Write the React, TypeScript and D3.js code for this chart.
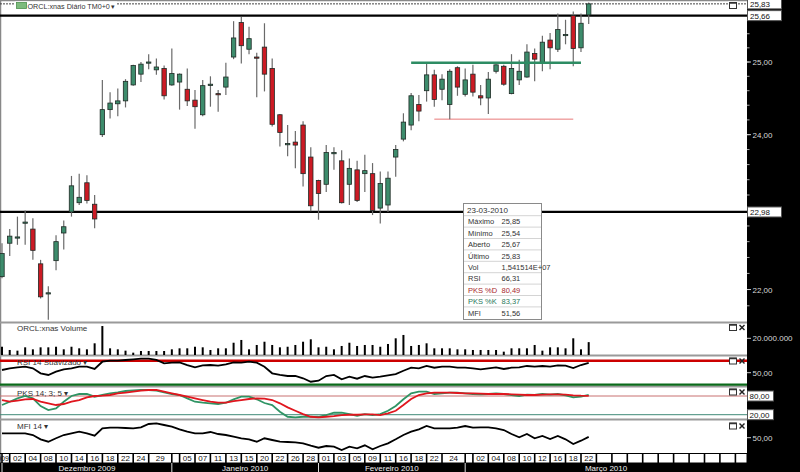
import React from 'react';
import * as d3 from 'd3';

// trading days shown on the axis (one per candle)
const tradingDays = [
  '30-11-2009', '01-12-2009', '02-12-2009', '03-12-2009', '04-12-2009', '07-12-2009', '08-12-2009', '09-12-2009', '10-12-2009', '11-12-2009',
  '14-12-2009', '15-12-2009', '16-12-2009', '17-12-2009', '18-12-2009', '21-12-2009', '22-12-2009', '23-12-2009', '24-12-2009', '28-12-2009',
  '29-12-2009', '30-12-2009', '31-12-2009', '04-01-2010', '05-01-2010', '06-01-2010', '07-01-2010', '08-01-2010', '11-01-2010', '12-01-2010',
  '13-01-2010', '14-01-2010', '15-01-2010', '19-01-2010', '20-01-2010', '21-01-2010', '22-01-2010', '25-01-2010', '26-01-2010', '27-01-2010',
  '28-01-2010', '29-01-2010', '01-02-2010', '02-02-2010', '03-02-2010', '04-02-2010', '05-02-2010', '08-02-2010', '09-02-2010', '10-02-2010',
  '11-02-2010', '12-02-2010', '16-02-2010', '17-02-2010', '18-02-2010', '19-02-2010', '22-02-2010', '23-02-2010', '24-02-2010', '25-02-2010',
  '26-02-2010', '01-03-2010', '02-03-2010', '03-03-2010', '04-03-2010', '05-03-2010', '08-03-2010', '09-03-2010', '10-03-2010', '11-03-2010',
  '12-03-2010', '15-03-2010', '16-03-2010', '17-03-2010', '18-03-2010', '19-03-2010', '22-03-2010',
];

const open = [
  22.16, 22.58, 22.65, 22.84, 22.76, 22.32, 21.95, 22.36, 22.71, 22.98,
  23.10, 23.36, 23.08, 24.00, 24.34, 24.42, 24.46, 24.68, 24.83, 24.99,
  24.89, 24.91, 24.68, 24.72, 24.62, 24.47, 24.27, 24.68, 24.56, 24.65,
  25.07, 25.56, 25.18, 25.07, 25.21, 24.91, 24.27, 23.87, 23.90, 24.13,
  23.70, 23.39, 23.34, 23.75, 23.65, 23.34, 23.53, 23.48, 23.48, 23.03,
  23.07, 23.70, 23.94, 24.13, 24.41, 24.60, 24.82, 24.62, 24.41, 24.92,
  24.55, 24.83, 24.53, 24.50, 24.87, 24.94, 24.56, 24.75, 24.79, 25.12,
  24.99, 25.31, 25.18, 25.38, 25.66, 25.20, 25.67,
];
const high = [
  22.58, 22.76, 22.92, 23.00, 22.90, 22.37, 22.04, 22.68, 22.87, 23.45,
  23.48, 23.46, 23.20, 24.75, 24.58, 24.63, 24.76, 24.96, 25.00, 25.11,
  25.05, 24.95, 25.19, 24.84, 24.91, 24.61, 24.75, 24.80, 24.61, 24.99,
  25.58, 25.64, 25.50, 25.13, 25.55, 25.05, 24.28, 24.13, 24.05, 24.18,
  23.83, 23.40, 23.86, 23.83, 23.79, 23.68, 23.65, 23.73, 23.62, 23.51,
  23.51, 23.86, 24.29, 24.57, 24.54, 24.98, 24.89, 24.83, 24.90, 24.94,
  24.91, 24.96, 24.68, 24.86, 24.97, 24.96, 25.11, 25.03, 25.25, 25.19,
  25.37, 25.41, 25.69, 25.60, 25.72, 25.69, 25.85,
];
const low = [
  22.14, 22.42, 22.56, 22.56, 22.37, 21.89, 21.63, 22.24, 22.50, 22.92,
  23.07, 23.09, 22.77, 23.97, 24.22, 24.25, 24.37, 24.67, 24.72, 24.90,
  24.82, 24.48, 24.67, 24.34, 24.39, 24.08, 24.25, 24.38, 24.31, 24.54,
  25.04, 24.98, 25.11, 24.51, 24.59, 24.11, 23.84, 23.71, 23.55, 23.31,
  22.99, 22.88, 23.24, 23.53, 23.09, 23.07, 23.11, 23.24, 22.94, 22.83,
  22.98, 23.44, 23.91, 24.06, 24.18, 24.45, 24.38, 24.47, 24.21, 24.53,
  24.52, 24.52, 24.40, 24.28, 24.84, 24.67, 24.55, 24.68, 24.78, 24.73,
  24.87, 24.90, 25.14, 25.25, 24.94, 25.14, 25.54,
];
const close = [
  22.45, 22.67, 22.66, 22.85, 22.49, 21.91, 21.96, 22.60, 22.79, 23.32,
  23.17, 23.13, 22.89, 24.34, 24.43, 24.46, 24.73, 24.95, 24.97, 25.00,
  24.93, 24.53, 24.84, 24.83, 24.46, 24.38, 24.67, 24.69, 24.55, 24.79,
  25.34, 25.23, 25.33, 25.06, 24.83, 24.14, 24.03, 23.88, 23.86, 23.48,
  23.06, 23.22, 23.76, 23.76, 23.10, 23.55, 23.13, 23.52, 23.00, 23.35,
  23.42, 23.80, 24.17, 24.53, 24.32, 24.82, 24.48, 24.76, 24.87, 24.65,
  24.75, 24.58, 24.50, 24.76, 24.96, 24.69, 24.91, 24.87, 25.14, 25.04,
  25.28, 25.20, 25.46, 25.39, 25.19, 25.55, 25.83,
];
const volume = [
  9.9e6, 6.0e6, 5.2e6, 9.2e6, 6.8e6, 9.2e6, 9.2e6, 9.9e6, 6.8e6, 9.9e6,
  8.0e6, 6.8e6, 14.0e6, 34.7e6, 8.0e6, 6.8e6, 5.2e6, 2.8e6, 4.8e6, 4.8e6,
  4.8e6, 4.8e6, 6.8e6, 8.0e6, 8.0e6, 9.9e6, 9.2e6, 6.0e6, 8.0e6, 8.0e6,
  14.7e6, 18.0e6, 6.8e6, 12.0e6, 15.9e6, 12.0e6, 9.2e6, 9.9e6, 12.0e6, 15.9e6,
  18.8e6, 9.2e6, 9.9e6, 6.8e6, 10.8e6, 14.7e6, 10.8e6, 12.0e6, 12.0e6, 9.9e6,
  13.2e6, 20.0e6, 24.0e6, 10.8e6, 12.0e6, 14.0e6, 8.0e6, 8.0e6, 8.0e6, 6.8e6,
  6.8e6, 6.0e6, 6.0e6, 6.0e6, 6.0e6, 4.0e6, 8.0e6, 8.0e6, 8.0e6, 12.0e6,
  5.2e6, 9.2e6, 9.2e6, 8.0e6, 20.0e6, 6.8e6, 15415140,
];
const rsi = [
  54.5, 57.3, 59.0, 60.0, 57.3, 49.0, 46.2, 51.7, 55.7, 57.3,
  60.0, 60.0, 56.2, 68.3, 70.0, 70.0, 71.2, 72.3, 73.3, 73.3,
  71.2, 65.7, 66.7, 67.3, 62.8, 59.0, 62.3, 62.8, 61.7, 64.0,
  67.3, 66.7, 68.3, 66.7, 60.0, 49.0, 46.2, 44.5, 44.5, 40.7,
  35.0, 36.7, 44.5, 46.2, 39.0, 43.3, 40.0, 44.5, 41.7, 43.3,
  45.7, 47.8, 53.3, 58.3, 57.3, 61.2, 58.3, 60.0, 60.0, 58.3,
  58.3, 57.3, 55.7, 57.3, 59.0, 56.2, 58.3, 59.0, 61.2, 60.0,
  61.2, 60.0, 62.3, 61.7, 57.8, 62.8, 66.31,
];
const pksK = [
  51.1, 61.7, 72.6, 80.0, 72.6, 47.8, 35.0, 40.5, 61.7, 80.0,
  86.4, 86.4, 77.7, 83.2, 88.7, 91.9, 96.1, 98.3, 99.3, 99.3,
  97.0, 91.9, 86.4, 83.2, 72.6, 61.7, 58.5, 56.5, 54.3, 58.5,
  69.4, 77.7, 77.7, 69.4, 57.5, 51.1, 29.5, 13.4, 11.5, 13.4,
  13.4, 13.4, 18.9, 26.3, 26.3, 22.1, 16.7, 22.1, 18.9, 22.1,
  32.7, 47.8, 69.4, 88.7, 93.8, 93.8, 86.4, 88.7, 90.6, 90.6,
  88.7, 86.4, 85.5, 86.4, 88.7, 86.4, 83.2, 80.0, 84.2, 83.2,
  86.4, 84.2, 86.4, 82.3, 75.8, 77.7, 83.37,
];
const pksD = [
  67.1, 61.7, 64.9, 69.4, 70.4, 61.7, 56.5, 51.1, 54.3, 61.7,
  67.1, 75.8, 80.0, 81.0, 83.2, 88.7, 90.6, 93.8, 97.0, 99.3,
  99.3, 93.8, 88.7, 83.2, 77.7, 72.6, 67.1, 61.7, 58.5, 58.5,
  63.9, 67.1, 70.4, 72.6, 71.3, 67.1, 56.5, 43.7, 32.7, 22.1,
  13.4, 11.5, 13.4, 15.7, 18.9, 19.9, 19.9, 21.2, 21.2, 18.9,
  24.4, 32.7, 51.1, 70.4, 83.2, 88.7, 90.6, 90.6, 90.6, 89.6,
  88.7, 88.7, 87.4, 86.4, 86.4, 86.4, 85.5, 84.2, 83.2, 83.2,
  84.2, 85.5, 85.5, 84.2, 82.3, 81.0, 80.49,
];
const mfi = [
  58.8, 58.8, 58.8, 58.8, 55.4, 46.8, 42.0, 48.8, 55.4, 58.8,
  62.0, 58.8, 54.0, 68.8, 70.0, 70.0, 69.4, 68.8, 70.8, 77.4,
  78.8, 75.4, 72.0, 66.8, 62.0, 58.8, 58.8, 61.4, 57.4, 55.4,
  52.0, 48.8, 46.8, 42.0, 48.8, 45.4, 42.0, 41.4, 40.8, 38.8,
  34.0, 30.0, 33.4, 32.0, 25.4, 32.0, 28.8, 34.8, 26.8, 33.4,
  38.8, 46.8, 55.4, 62.0, 66.8, 73.4, 68.8, 68.8, 68.8, 70.0,
  73.4, 70.0, 70.8, 70.8, 68.8, 65.4, 57.4, 50.8, 57.4, 48.8,
  53.4, 47.4, 53.4, 46.8, 37.4, 44.0, 51.56,
];

// drawn levels on the price panel
const blackLevels = [25.66, 22.98];
const lastPrice = 25.83;
const resistance = { value: 24.99, from: '17-02-2010', to: '19-03-2010' };
const support = { value: 24.21, from: '22-02-2010', to: '18-03-2010' };

const priceLabels = [25, 24, 22];
const dayTicks = [
  '30-11-2009', '02-12-2009', '04-12-2009', '08-12-2009', '10-12-2009', '14-12-2009', '16-12-2009', '18-12-2009', '22-12-2009', '24-12-2009',
  '29-12-2009', '05-01-2010', '07-01-2010', '11-01-2010', '13-01-2010', '15-01-2010', '20-01-2010', '22-01-2010', '26-01-2010', '28-01-2010',
  '01-02-2010', '03-02-2010', '05-02-2010', '09-02-2010', '11-02-2010', '16-02-2010', '18-02-2010', '22-02-2010', '24-02-2010',
  '02-03-2010', '04-03-2010', '08-03-2010', '10-03-2010', '12-03-2010', '16-03-2010', '18-03-2010', '22-03-2010',
];
const monthNames = ['Dezembro 2009', 'Janeiro 2010', 'Fevereiro 2010', 'Março 2010'];
const monthStarts = ['01-12-2009', '04-01-2010', '01-02-2010', '01-03-2010'];
const hoverDate = '23-03-2010';

const W = 800;
const H = 472;
const RIGHT = 747;
const FONT = '"Liberation Sans", Arial, sans-serif';

const fmt = (v: number) => v.toFixed(2).replace('.', ',');
const fmtSci = (v: number) => {
  const e = Math.floor(Math.log10(v));
  return (v / 10 ** e).toFixed(6).replace('.', ',') + 'E+' + String(e).padStart(2, '0');
};

const WinIcons = ({ y, close: withX = true }: { y: number; close?: boolean }) => (
  <g>
    <rect x={729.5} y={y - 3} width={7} height={6} fill="white" stroke="#333" strokeWidth={1} />
    <line x1={729.5} x2={736.5} y1={y - 2.5} y2={y - 2.5} stroke="#333" strokeWidth={1.5} />
    {withX && (
      <g stroke="#222" strokeWidth={1.4}>
        <line x1={739.5} x2={744.5} y1={y - 2.5} y2={y + 2.5} />
        <line x1={739.5} x2={744.5} y1={y + 2.5} y2={y - 2.5} />
      </g>
    )}
  </g>
);

export default function App() {
  const x = d3.scalePoint<string>().domain(tradingDays).range([2, 588.7]);
  const step = x.step();
  const xi = (i: number) => 2 + i * step;
  const idx = (d: string) => tradingDays.indexOf(d);

  // price axis is logarithmic
  const yP = d3.scaleLog()
    .domain([21.6, 25.9])
    .range([62 + 1780 * Math.log(25 / 21.6), 62 - 1780 * Math.log(25.9 / 25)]);
  const yVol = d3.scaleLinear().domain([0, 20e6]).range([355, 338.3]);
  const yRsi = d3.scaleLinear().domain([30, 70]).range([384.7, 360.7]);
  const yPks = d3.scaleLinear().domain([20, 80]).range([414.7, 396]);
  const yMfi = d3.scaleLinear().domain([20, 80]).range([452.7, 422.7]);

  const lineOf = (sc: d3.ScaleLinear<number, number>) =>
    d3.line<number>().x((_, i) => x(tradingDays[i]) as number).y(v => sc(v));

  const minorTicks = d3.range(21.8, 25.85, 0.2);

  // date-row separators
  const seps: number[] = [];
  dayTicks.slice(1).forEach(d => seps.push(xi(idx(d) - 1)));
  monthStarts.forEach(d => seps.push(xi(idx(d) - 1)));
  for (let i = tradingDays.length; xi(i) < RIGHT; i += 2) seps.push(xi(i));
  const sortedSeps = Array.from(new Set(seps.map(s => Math.round(s * 10) / 10))).sort((a, b) => a - b);
  const dividers = monthStarts.map(d => xi(idx(d) - 1));

  const last = tradingDays.length - 1;
  const tipRows: [string, string, string][] = [
    ['Máximo', fmt(high[last]), '#333'],
    ['Mínimo', fmt(low[last]), '#333'],
    ['Aberto', fmt(open[last]), '#333'],
    ['Último', fmt(close[last]), '#333'],
    ['Vol', fmtSci(volume[last]), '#333'],
    ['RSI', fmt(rsi[last]), '#333'],
    ['PKS %D', fmt(pksD[last]), '#a8282c'],
    ['PKS %K', fmt(pksK[last]), '#2b7a5c'],
    ['MFI', fmt(mfi[last]), '#333'],
  ];

  const panelLines = [322.5, 355.5, 386.5, 419.5];

  return (
    <div style={{ position: 'fixed', left: 0, top: 0 }}>
      <svg width={W} height={H} style={{ display: 'block', fontFamily: FONT }}>
        <rect x={0} y={0} width={W} height={H} fill="white" />

        {/* panel frames */}
        <line x1={0} x2={RIGHT} y1={0.5} y2={0.5} stroke="#888" strokeWidth={1.5} />
        <line x1={0.5} x2={0.5} y1={0} y2={454} stroke="#888" strokeWidth={1.5} />
        {panelLines.map(y => (
          <line key={y} x1={0} x2={RIGHT} y1={y} y2={y} stroke="#9a9a9a" strokeWidth={2} />
        ))}

        {/* price levels */}
        <line x1={0} x2={RIGHT} y1={yP(lastPrice)} y2={yP(lastPrice)} stroke="#444" strokeWidth={1} strokeDasharray="2,1" />
        {blackLevels.map(v => (
          <line key={v} x1={0} x2={RIGHT} y1={yP(v)} y2={yP(v)} stroke="#000" strokeWidth={2.2} />
        ))}
        <line x1={x(support.from)} x2={x(support.to)} y1={yP(support.value)} y2={yP(support.value)} stroke="#e87878" strokeWidth={1} />

        {/* candles */}
        {tradingDays.map((d, i) => {
          const cx = x(d) as number;
          const up = close[i] >= open[i];
          const top = yP(Math.max(open[i], close[i]));
          const bot = yP(Math.min(open[i], close[i]));
          return (
            <g key={d}>
              <line x1={cx} x2={cx} y1={yP(high[i])} y2={yP(low[i])} stroke="#6a6a6a" strokeWidth={1.2} />
              <rect x={cx - 2.2} y={top} width={4.4} height={Math.max(bot - top, 1.2)}
                fill={up ? '#3d8c6c' : '#cc1a24'} stroke="#1f2a25" strokeWidth={0.8} />
            </g>
          );
        })}
        <line x1={x(resistance.from)} x2={x(resistance.to)} y1={yP(resistance.value)} y2={yP(resistance.value)} stroke="#2d8c63" strokeWidth={2.4} />

        {/* title */}
        <rect x={15} y={1.5} width={102} height={8} fill="white" />
        <rect x={16.5} y={2.5} width={10} height={6} fill="#7dbb7d" stroke="#4e8f4e" strokeWidth={0.8} />
        <text x={27.5} y={8.6} fontSize={7.2} fill="#333">ORCL:xnas Diário TM0+0</text>
        <text x={111} y={8.6} fontSize={6.5} fill="#333">▾</text>
        <rect x={728} y={1.5} width={10} height={8} fill="white" />
        <WinIcons y={5.5} close={false} />

        {/* tooltip */}
        <g>
          <rect x={463.5} y={203.5} width={78} height={116} fill="white" stroke="#8a8a8a" strokeWidth={1} />
          <text x={467} y={213} fontSize={8} fill="#333">{hoverDate}</text>
          {tipRows.map(([label, value, color], r) => {
            const cy = 221.4 + r * 11.4;
            return (
              <g key={label}>
                <line x1={464} x2={541} y1={cy - 5.7} y2={cy - 5.7} stroke="#d4d4d4" strokeWidth={1} />
                <text x={468} y={cy + 3} fontSize={7.5} fill={color}>{label}</text>
                <text x={501.5} y={cy + 3} fontSize={7.5} fill={color}>{value}</text>
              </g>
            );
          })}
        </g>

        {/* volume */}
        <text x={17} y={331} fontSize={8} fill="#333">ORCL:xnas Volume</text>
        {tradingDays.map((d, i) => (
          <rect key={d} x={(x(d) as number) - 1} y={yVol(volume[i])} width={2} height={yVol(0) - yVol(volume[i])} fill="#000" />
        ))}
        <WinIcons y={327.5} />

        {/* RSI */}
        <line x1={0} x2={RIGHT} y1={yRsi(70)} y2={yRsi(70)} stroke="#cc0000" strokeWidth={2.6} />
        <line x1={0} x2={RIGHT} y1={yRsi(30)} y2={yRsi(30)} stroke="#0b6a1a" strokeWidth={2.2} />
        <text x={17} y={364.5} fontSize={8} fill="#333">RSI 14 Suavizado ▾</text>
        <path d={lineOf(yRsi)(rsi) || ''} fill="none" stroke="#000" strokeWidth={1.8} />
        <WinIcons y={361} />

        {/* PKS */}
        <line x1={0} x2={RIGHT} y1={yPks(80)} y2={yPks(80)} stroke="#c87070" strokeWidth={1} />
        <line x1={0} x2={RIGHT} y1={yPks(20)} y2={yPks(20)} stroke="#3f8a78" strokeWidth={1} />
        <text x={17} y={395.5} fontSize={8} fill="#333">PKS 14; 3; 5 ▾</text>
        <path d={lineOf(yPks)(pksK) || ''} fill="none" stroke="#2f9464" strokeWidth={1.8} />
        <path d={lineOf(yPks)(pksD) || ''} fill="none" stroke="#e0161e" strokeWidth={1.8} />
        <WinIcons y={392} />

        {/* MFI */}
        <text x={17} y={429} fontSize={8} fill="#333">MFI 14 ▾</text>
        <path d={lineOf(yMfi)(mfi) || ''} fill="none" stroke="#000" strokeWidth={1.8} />
        <WinIcons y={426} />

        {/* date axis */}
        <rect x={0} y={453.5} width={RIGHT} height={9.5} fill="white" stroke="#000" strokeWidth={1} />
        {sortedSeps.map(s => (
          <line key={s} x1={s} x2={s} y1={453.5} y2={463} stroke="#000" strokeWidth={1.6} />
        ))}
        {dayTicks.map((d, k) => {
          const left = xi(idx(d) - 1);
          const right = sortedSeps.find(s => s > left + 1) ?? left + 2 * step;
          if (k === 0) {
            // first label is partly hidden behind the left edge
            return (
              <text key={d} x={8.8} y={461.3} fontSize={7} textAnchor="end" fill="#111">{d.slice(6)}</text>
            );
          }
          return (
            <text key={d} x={(left + right) / 2} y={461.3} fontSize={8} textAnchor="middle" fill="#111">{d.slice(0, 2)}</text>
          );
        })}
        <rect x={0} y={463} width={RIGHT} height={9} fill="#000" />
        {dividers.map(s => (
          <line key={s} x1={s} x2={s} y1={463} y2={472} stroke="#ddd" strokeWidth={1} />
        ))}
        {monthNames.map((m, k) => {
          const a = dividers[k];
          const b = k + 1 < dividers.length ? dividers[k + 1] : RIGHT;
          return (
            <text key={m} x={(a + b) / 2} y={470.5} fontSize={8} textAnchor="middle" fill="#eee">{m}</text>
          );
        })}

        {/* right axis */}
        <rect x={RIGHT} y={0} width={W - RIGHT} height={H} fill="#000" />
        {minorTicks.map(v => (
          <line key={v} x1={RIGHT} x2={RIGHT + 2.5} y1={yP(v)} y2={yP(v)} stroke="#aaa" strokeWidth={1} />
        ))}
        {priceLabels.map(v => (
          <g key={v}>
            <line x1={RIGHT} x2={RIGHT + 4} y1={yP(v)} y2={yP(v)} stroke="#ccc" strokeWidth={1} />
            <text x={RIGHT + 5.5} y={yP(v) + 3} fontSize={8} fill="#d8d8d8">{fmt(v)}</text>
          </g>
        ))}
        {[lastPrice, ...blackLevels].map(v => (
          <g key={v}>
            <rect x={RIGHT + 0.5} y={yP(v) - 5} width={34} height={10} fill="white" stroke="#555" strokeWidth={1} />
            <text x={RIGHT + 3} y={yP(v) + 3} fontSize={8} fill="#111">{fmt(v)}</text>
          </g>
        ))}
        <line x1={RIGHT} x2={RIGHT + 4} y1={yVol(20e6)} y2={yVol(20e6)} stroke="#ccc" />
        <text x={RIGHT + 5.5} y={yVol(20e6) + 3} fontSize={8} fill="#d8d8d8">{d3.format(',')(20e6).replace(/,/g, '.')}</text>
        <line x1={RIGHT} x2={RIGHT + 4} y1={yRsi(50)} y2={yRsi(50)} stroke="#ccc" />
        <text x={RIGHT + 5.5} y={yRsi(50) + 3} fontSize={8} fill="#d8d8d8">{fmt(50)}</text>
        {[80, 20].map(v => (
          <g key={v}>
            <rect x={RIGHT + 0.5} y={yPks(v) - 5} width={26} height={10} fill="white" stroke="#555" strokeWidth={1} />
            <text x={RIGHT + 2.5} y={yPks(v) + 3} fontSize={8} fill="#111">{fmt(v)}</text>
          </g>
        ))}
        <line x1={RIGHT} x2={RIGHT + 4} y1={yMfi(50)} y2={yMfi(50)} stroke="#ccc" />
        <text x={RIGHT + 5.5} y={yMfi(50) + 3} fontSize={8} fill="#d8d8d8">{fmt(50)}</text>
      </svg>
    </div>
  );
}
